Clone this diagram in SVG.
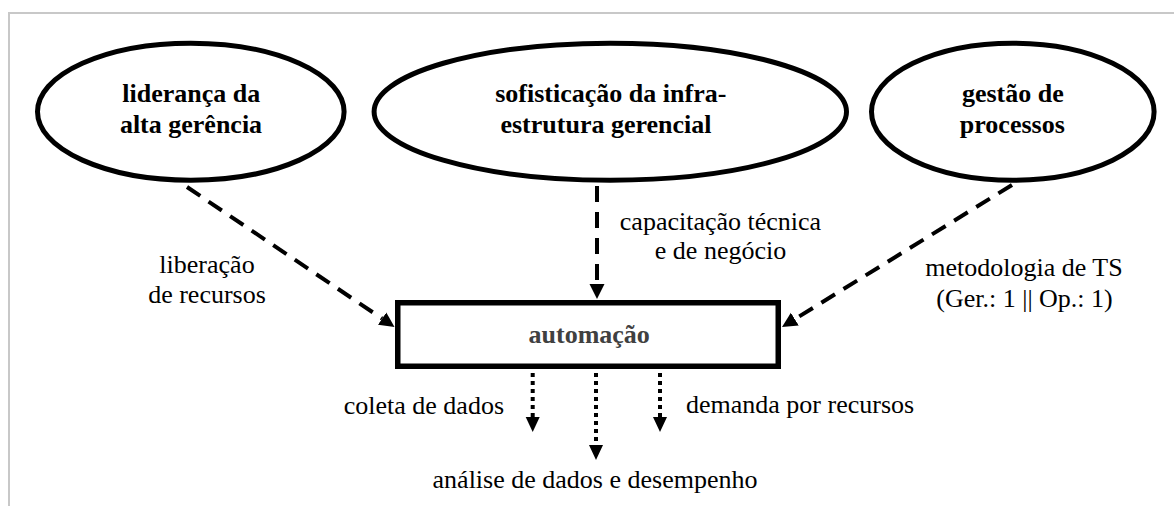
<svg xmlns="http://www.w3.org/2000/svg" width="1174" height="506" viewBox="0 0 1174 506">
<style>
.frame{fill:none;stroke:#c8c8c8;stroke-width:2}
.node{fill:#fff;stroke:#000;stroke-width:5}
.box{fill:#fff;stroke:#000;stroke-width:5.5}
.dash{fill:none;stroke:#000;stroke-width:4;stroke-dasharray:16 10}
.dot{fill:none;stroke:#000;stroke-width:4;stroke-dasharray:4 4}
</style>
<defs>
<marker id="ah" markerUnits="userSpaceOnUse" markerWidth="16" markerHeight="16" viewBox="0 -8 16 16" refX="0" refY="0" orient="auto">
<path d="M0,-7.5 L15,0 L0,7.5 z" fill="#000"/>
</marker>
<marker id="ahs" markerUnits="userSpaceOnUse" markerWidth="16" markerHeight="16" viewBox="0 -8 16 16" refX="0" refY="0" orient="auto">
<path d="M0,-7 L15,0 L0,7 z" fill="#000"/>
</marker>
</defs>
<rect class="frame" x="9" y="13" width="1200" height="600"/>
<g id="connectors">
<line class="dash" x1="187" y1="187" x2="382.1" y2="318.6" marker-end="url(#ah)"/>
<line class="dash" x1="597" y1="186" x2="597" y2="284" marker-end="url(#ah)"/>
<line class="dash" x1="1012" y1="185" x2="794.8" y2="319.1" marker-end="url(#ah)"/>
<line class="dot" x1="532.7" y1="373" x2="532.7" y2="417" marker-end="url(#ahs)"/>
<line class="dot" x1="596" y1="373" x2="596" y2="445" marker-end="url(#ahs)"/>
<line class="dot" x1="660" y1="373" x2="660" y2="417" marker-end="url(#ahs)"/>
</g>
<g font-family="Liberation Serif, Times New Roman, serif" font-size="26" font-weight="bold" text-anchor="middle" fill="#000">
<g id="lideranca">
<ellipse class="node" cx="190.8" cy="111.7" rx="153.3" ry="68.5"/>
<text x="191.2" y="102">liderança da</text>
<text x="191" y="133">alta gerência</text>
</g>
<g id="sofisticacao">
<ellipse class="node" cx="610.3" cy="111.7" rx="236.2" ry="68.5"/>
<text x="610.8" y="102">sofisticação da infra-</text>
<text x="606" y="133">estrutura gerencial</text>
</g>
<g id="gestao">
<ellipse class="node" cx="1012.8" cy="111.7" rx="141.3" ry="68.5"/>
<text x="1012.8" y="102">gestão de</text>
<text x="1012.3" y="133">processos</text>
</g>
<g id="automacao">
<rect class="box" x="397.75" y="302.75" width="380.5" height="63.5"/>
<text x="589.2" y="343" fill="#404040">automação</text>
</g>
</g>
<g id="labels" font-family="Liberation Serif, Times New Roman, serif" font-size="26" fill="#000" text-anchor="middle">
<text x="207" y="273">liberação</text>
<text x="207" y="303">de recursos</text>
<text x="720.5" y="230">capacitação técnica</text>
<text x="720.5" y="259">e de negócio</text>
<text x="1024" y="276">metodologia de TS</text>
<text x="1024.5" y="307">(Ger.: 1 || Op.: 1)</text>
<text x="504" y="414" text-anchor="end">coleta de dados</text>
<text x="686" y="413" text-anchor="start">demanda por recursos</text>
<text x="595" y="488">análise de dados e desempenho</text>
</g>
</svg>
